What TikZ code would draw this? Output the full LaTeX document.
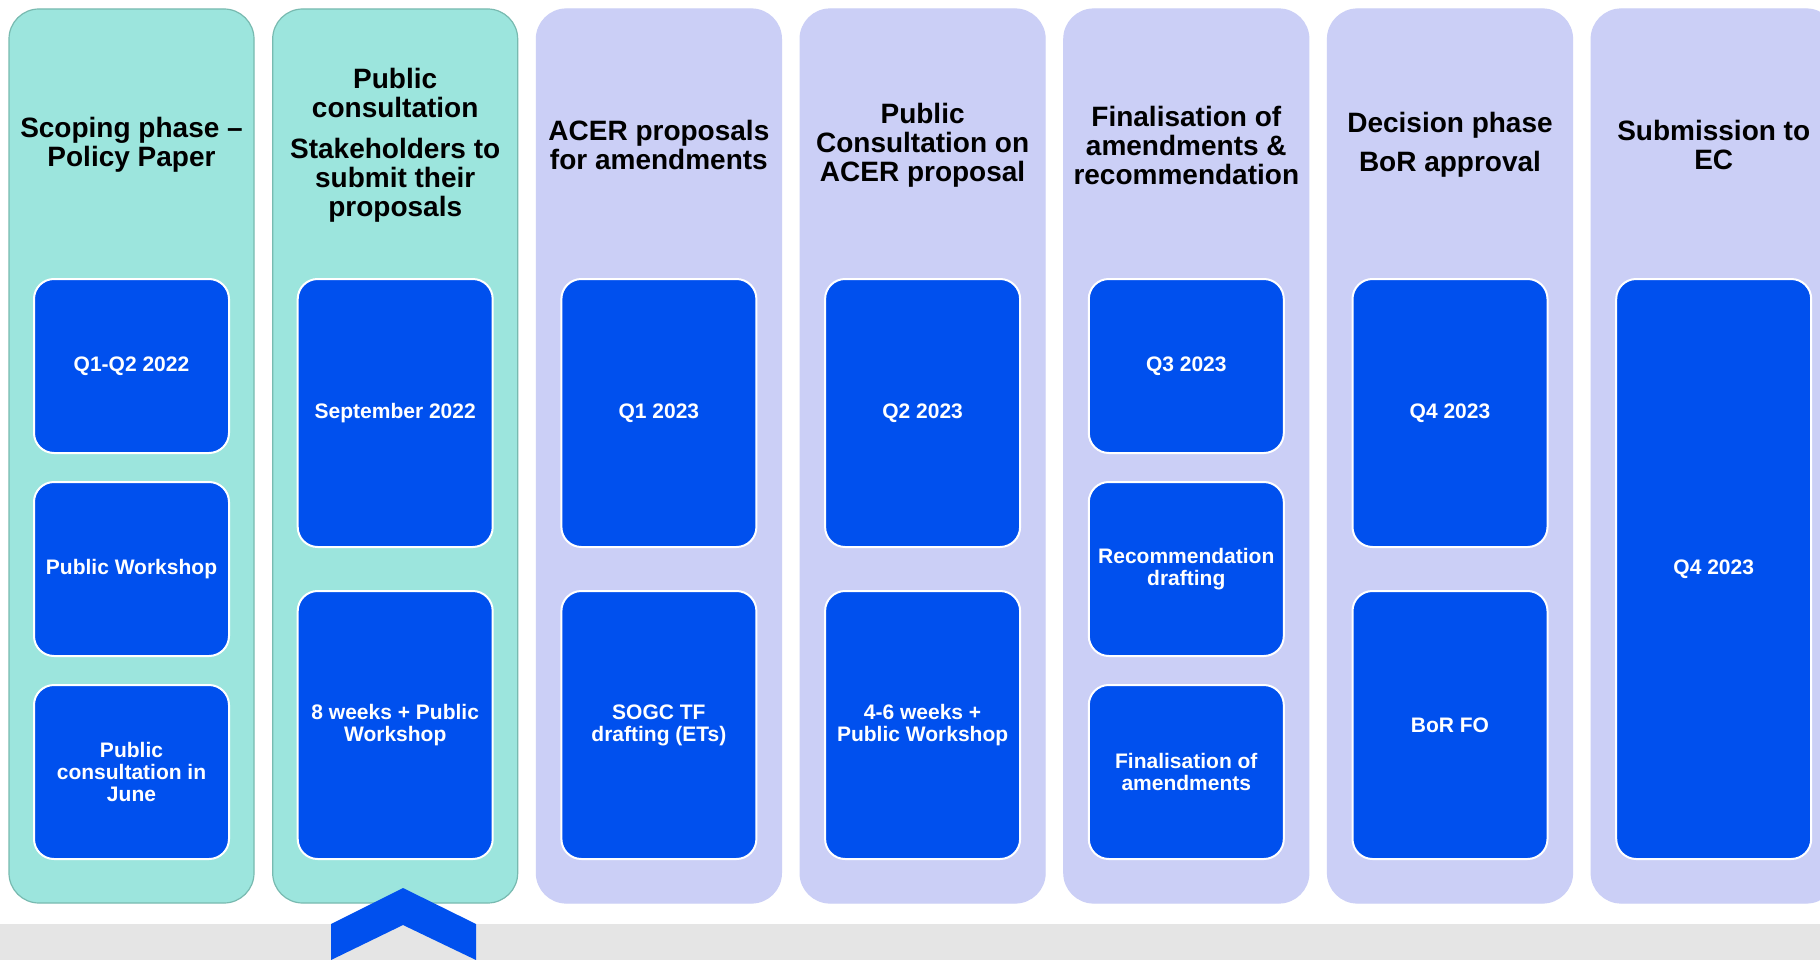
\documentclass[tikz,border=0pt]{standalone}
\usepackage{fontspec}
\setmainfont{Liberation Sans}
\usepackage{xcolor}
\definecolor{turq}{HTML}{9CE5DD}
\definecolor{turqline}{HTML}{78BAB0}
\definecolor{lila}{HTML}{CBCFF6}
\definecolor{azul}{HTML}{0050EE}
\definecolor{gris}{HTML}{E5E5E5}

\begin{document}
\begin{tikzpicture}[x=1pt,y=-1pt,
        columna/.style={rounded corners=30pt,minimum width=245pt,minimum height=894pt,inner sep=0pt,line width=1.2pt},
        titulo/.style={align=center,inner sep=0pt,font=\fontsize{28}{29}\selectfont\bfseries},
        caja/.style={draw=white,line width=2pt,fill=azul,rounded corners=20pt,minimum width=195pt,
          inner sep=0pt,text=white,align=center,font=\fontsize{21}{22}\selectfont\bfseries}]
        \clip (0,0) rectangle (1820,960);
        \fill[white] (0,0) rectangle (1820,960);
        \fill[gris] (0,924) rectangle (1820,960); % banda gris
        \def\dx{263.7}
        \def\ty{145}
        \foreach \i/\c/\l in {1/turq/turqline,2/turq/turqline,3/lila/lila,4/lila/lila,5/lila/lila,6/lila/lila,7/lila/lila}
        \node[columna,fill=\c,draw=\l] (col\i) at ({131.5+\dx*(\i-1)},456) {};
        % titulos
        \node[titulo] (tit1) at (col1 |- 0,\ty) {Scoping phase –\\Policy Paper};
        \node[titulo] (tit2) at (col2 |- 0,\ty) {Public\\consultation\\[12pt]Stakeholders to\\submit their\\proposals};
        \node[titulo] (tit3) at (col3 |- 0,\ty) {ACER proposals\\for amendments};
        \node[titulo] (tit4) at (col4 |- 0,\ty) {Public\\Consultation on\\ACER proposal};
        \node[titulo] (tit5) at (col5 |- 0,\ty) {Finalisation of\\amendments \&\\recommendation};
        \node[titulo] (tit6) at (col6 |- 0,\ty) {Decision phase\\[10pt]BoR approval};
        \node[titulo] (tit7) at (col7 |- 0,\ty) {Submission to\\EC};
        % cajas
        \node[caja,minimum height=174pt] (q1) at (col1 |- 0,366) {Q1-Q2 2022};
        \node[caja,minimum height=174pt] (ws1) at (col1 |- 0,569) {Public Workshop};
        \node[caja,minimum height=174pt] (pc1) at (col1 |- 0,772) {Public\\consultation in\\June};
        \node[caja,minimum height=268pt] (q2) at (col2 |- 0,413) {September 2022};
        \node[caja,minimum height=268pt] (ws2) at (col2 |- 0,725) {8 weeks + Public\\Workshop};
        \node[caja,minimum height=268pt] (q3) at (col3 |- 0,413) {Q1 2023};
        \node[caja,minimum height=268pt] (et3) at (col3 |- 0,725) {SOGC TF\\drafting (ETs)};
        \node[caja,minimum height=268pt] (q4) at (col4 |- 0,413) {Q2 2023};
        \node[caja,minimum height=268pt] (ws4) at (col4 |- 0,725) {4-6 weeks +\\Public Workshop};
        \node[caja,minimum height=174pt] (q5) at (col5 |- 0,366) {Q3 2023};
        \node[caja,minimum height=174pt] (rd5) at (col5 |- 0,569) {Recommendation\\drafting};
        \node[caja,minimum height=174pt] (fa5) at (col5 |- 0,772) {Finalisation of\\amendments};
        \node[caja,minimum height=268pt] (q6) at (col6 |- 0,413) {Q4 2023};
        \node[caja,minimum height=268pt] (fo6) at (col6 |- 0,725) {BoR FO};
        \node[caja,minimum height=580pt] (q7) at (col7 |- 0,569) {Q4 2023};
        % flecha
        \fill[azul] (331,924) -- (403,888) -- (476,924) -- (476,960) -- (403,925) -- (331,960) -- cycle;
\end{tikzpicture}
\end{document}
